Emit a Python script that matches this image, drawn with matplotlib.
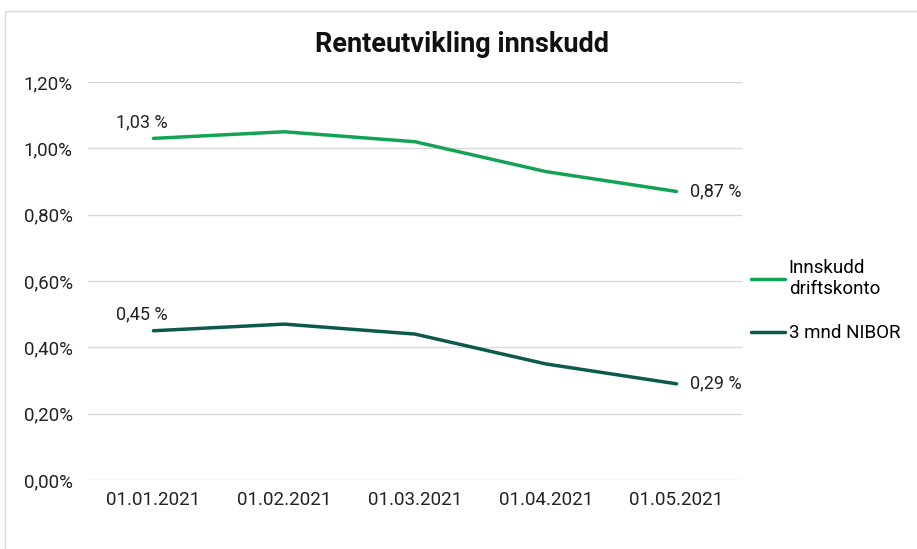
import matplotlib.pyplot as plt
from matplotlib.patches import Rectangle

dates = ['01.01.2021', '01.02.2021', '01.03.2021', '01.04.2021', '01.05.2021']
innskudd = [1.03, 1.05, 1.02, 0.93, 0.87]
nibor = [0.45, 0.47, 0.44, 0.35, 0.29]
yticks = [0.0, 0.2, 0.4, 0.6, 0.8, 1.0, 1.2]

green = '#14a354'
dark = '#0c5a4b'

plt.rcParams['font.family'] = ['Roboto', 'DejaVu Sans']

fig = plt.figure(figsize=(9.17, 5.49), dpi=100)
ax = fig.add_axes([0.096, 0.1257, 0.713, 0.7249])

# chart border
fig.patches.append(Rectangle((5 / 917, -0.02), 1.05, 1 - 11 / 549 + 0.02,
                             transform=fig.transFigure, fill=False,
                             edgecolor='#d9d9d9', lw=1))

x = range(len(dates))
ax.plot(x, innskudd, color=green, lw=2.5, label='Innskudd\ndriftskonto', solid_capstyle='round')
ax.plot(x, nibor, color=dark, lw=2.5, label='3 mnd NIBOR', solid_capstyle='round')

ax.set_xlim(-0.5, len(dates) - 0.5)
ax.set_ylim(0, 1.2)
ax.set_yticks(yticks)
ax.set_yticklabels([f'{v:.2f}%'.replace('.', ',') for v in yticks], fontsize=13.5, color='#222222')
ax.set_xticks(list(x))
ax.set_xticklabels(dates, fontsize=13.5, color='#222222')
ax.tick_params(axis='x', length=0, pad=8)
ax.tick_params(axis='y', length=0, pad=11)
ax.grid(axis='y', color='#d9d9d9', lw=1)
ax.set_axisbelow(True)
for s in ax.spines.values():
    s.set_visible(False)

# data labels first and last point
for vals in (innskudd, nibor):
    ax.annotate(f'{vals[0]:.2f} %'.replace('.', ','), (0, vals[0]), xytext=(-8, 5),
                textcoords='offset points', ha='center', va='bottom', fontsize=13, color='#222222')
    ax.annotate(f'{vals[-1]:.2f} %'.replace('.', ','), (len(vals) - 1, vals[-1]), xytext=(10, 0),
                textcoords='offset points', ha='left', va='center', fontsize=13, color='#222222')

fig.text(0.504, 0.919, 'Renteutvikling innskudd', ha='center', va='center',
         fontsize=19.5, fontweight='bold', color='#111111')

ax.legend(loc='center left', bbox_to_anchor=(1.0, 0.45), frameon=False, fontsize=13.5,
          handlelength=1.8, handletextpad=0.2, labelspacing=1.4, borderaxespad=0.1)

fig.savefig('out.png', dpi=100)
